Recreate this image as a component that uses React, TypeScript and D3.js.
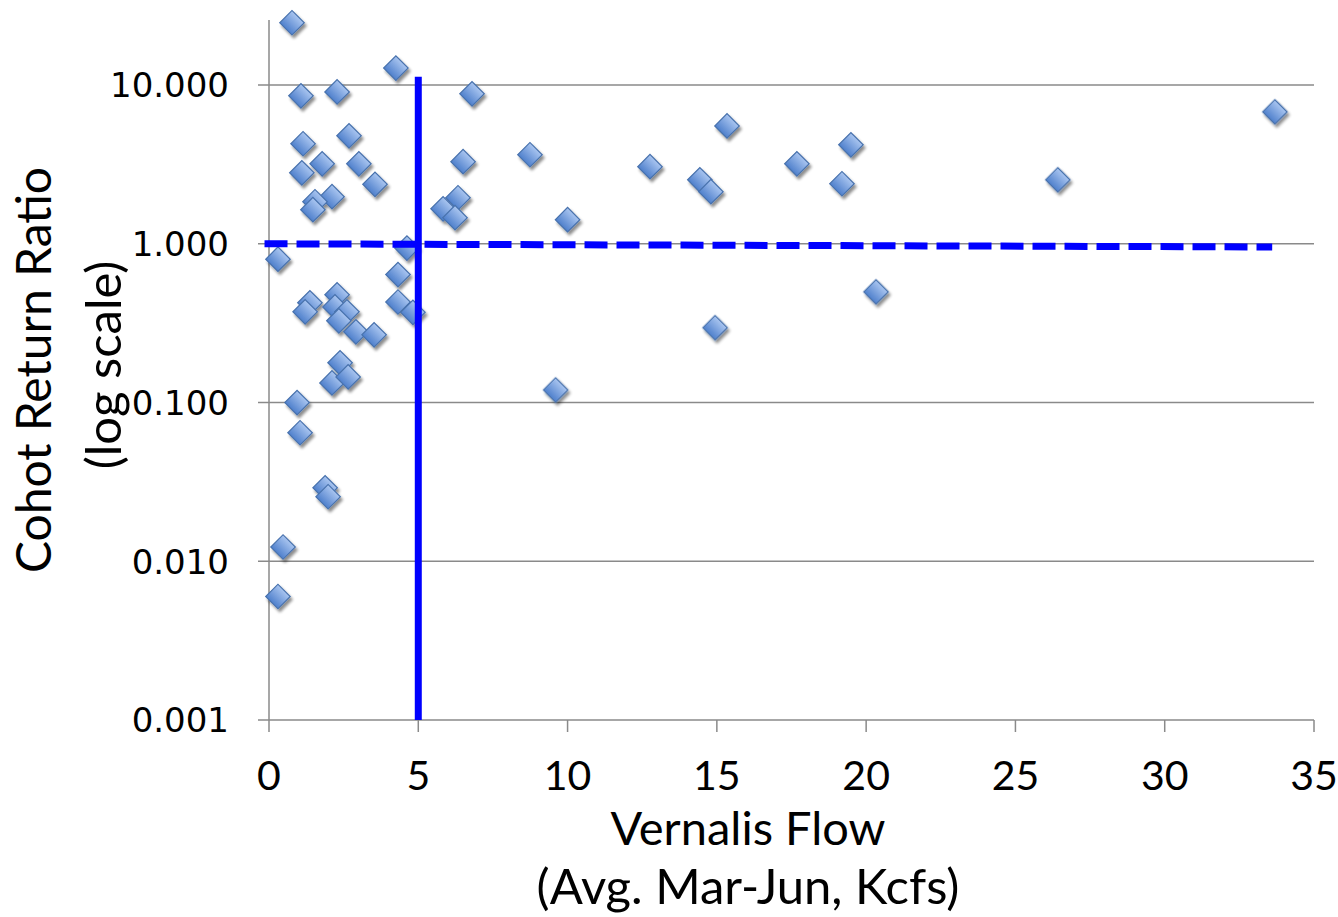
import React from 'react';
import * as d3 from 'd3';

// Vernalis flow (Kcfs) and cohort return ratio
const flow = [
  0.77, 4.25, 1.07, 2.28, 6.8, 1.14, 2.68, 1.1, 1.78, 3.01,
  3.55, 2.11, 1.54, 1.47, 6.5, 8.74, 6.33, 5.83, 6.23, 10.0,
  12.76, 14.43, 14.8, 15.34, 17.68, 19.19, 19.49, 26.42, 33.69, 4.62,
  0.3, 4.32, 4.32, 4.82, 1.37, 1.21, 2.28, 2.21, 2.61, 2.34,
  2.91, 3.52, 2.38, 2.11, 2.65, 0.94, 1.04, 1.88, 1.98, 0.47,
  0.3, 14.94, 20.33, 9.6,
];
const ratio = [
  24.7, 12.8, 8.55, 9.06, 8.81, 4.27, 4.79, 2.8, 3.19, 3.19,
  2.37, 1.98, 1.84, 1.64, 3.29, 3.64, 1.95, 1.66, 1.46, 1.42,
  3.06, 2.53, 2.13, 5.53, 3.19, 2.39, 4.2, 2.53, 6.78, 0.94,
  0.8, 0.64, 0.43, 0.37, 0.425, 0.373, 0.477, 0.4, 0.373, 0.327,
  0.279, 0.267, 0.178, 0.133, 0.145, 0.1, 0.0645, 0.029, 0.0255, 0.0123,
  0.006, 0.296, 0.498, 0.12,
];

const xTicks = [0, 5, 10, 15, 20, 25, 30, 35];
const yTicks = [0.001, 0.01, 0.1, 1, 10];
const yTickLabels = ['0.001', '0.010', '0.100', '1.000', '10.000'];

// reference lines
const vLineX = [5, 5];
const vLineY = [0.001, 11.3];
const hLineX = [-0.15, 33.6];
const hLineY = [1.0, 0.955];

const W = 1338, H = 917;

export default function App() {
  const x = d3.scaleLinear().domain([0, 35]).range([269, 1314]);
  const y = d3.scaleLog().domain([0.001, 25.7]).range([720, 20]);

  const diamond = d3.symbol(d3.symbolSquare, 300)();
  const line = d3.line<[number, number]>().x(d => x(d[0])).y(d => y(d[1]));

  const pts = flow.map((f, i) => [f, ratio[i]] as [number, number]);
  const grid = '#8a8a8a';

  return (
    <svg width={W} height={H} style={{ position: 'absolute', left: 0, top: 0 }}>
      <defs>
        <linearGradient id="dg" x1="0" y1="0" x2="0" y2="1">
          <stop offset="0" stopColor="#a9c5f0" />
          <stop offset="1" stopColor="#4f80cc" />
        </linearGradient>
        <filter id="sh" x="-50%" y="-50%" width="200%" height="200%">
          <feGaussianBlur in="SourceAlpha" stdDeviation="1.6" />
          <feOffset dx="1.5" dy="2.5" result="b" />
          <feComponentTransfer><feFuncA type="linear" slope="0.45" /></feComponentTransfer>
          <feMerge><feMergeNode /><feMergeNode in="SourceGraphic" /></feMerge>
        </filter>
      </defs>
      <rect width={W} height={H} fill="#fff" />

      {/* gridlines + ticks */}
      {yTicks.map(t => (
        <line key={t} x1={x(0) - 11} x2={x(35)} y1={y(t)} y2={y(t)} stroke={grid} strokeWidth={1.5} />
      ))}
      <line x1={x(0)} x2={x(0)} y1={y.range()[1]} y2={y(0.001)} stroke={grid} strokeWidth={1.5} />
      {xTicks.map(t => (
        <line key={t} x1={x(t)} x2={x(t)} y1={y(0.001)} y2={y(0.001) + 12} stroke={grid} strokeWidth={1.5} />
      ))}

      {/* tick labels */}
      {yTicks.map((t, i) => (
        <text key={t} x={229} y={y(t)} dy="0.36em" textAnchor="end"
          fontFamily="DejaVu Sans" fontSize={34} fill="#000">{yTickLabels[i]}</text>
      ))}
      {xTicks.map(t => (
        <text key={t} x={x(t)} y={790} textAnchor="middle"
          fontFamily="Lato" fontSize={41} fill="#000">{t}</text>
      ))}

      {/* axis titles */}
      <text x={748} y={845} textAnchor="middle" fontFamily="Lato" fontSize={47}>Vernalis Flow</text>
      <text x={748} y={904} textAnchor="middle" fontFamily="Lato" fontSize={49}>(Avg. Mar-Jun, Kcfs)</text>
      <text transform="translate(51,370) rotate(-90)" textAnchor="middle" fontFamily="Lato" fontSize={48}>Cohot Return Ratio</text>
      <text transform="translate(121,365) rotate(-90)" textAnchor="middle" fontFamily="Lato" fontSize={49}>(log scale)</text>

      {/* points */}
      <g filter="url(#sh)">
        {pts.map((p, i) => (
          <path key={i} d={diamond!} transform={`translate(${x(p[0])},${y(p[1])}) rotate(45)`}
            fill="url(#dg)" stroke="#4872ad" strokeWidth={1.2} />
        ))}
      </g>

      {/* reference lines */}
      <path d={line(vLineX.map((v, i) => [v, vLineY[i]] as [number, number]))!} stroke="#0000ff" strokeWidth={7} fill="none" />
      <path d={line(hLineX.map((v, i) => [v, hLineY[i]] as [number, number]))!} stroke="#0000ff" strokeWidth={7}
        strokeDasharray="23 9" fill="none" />
    </svg>
  );
}
